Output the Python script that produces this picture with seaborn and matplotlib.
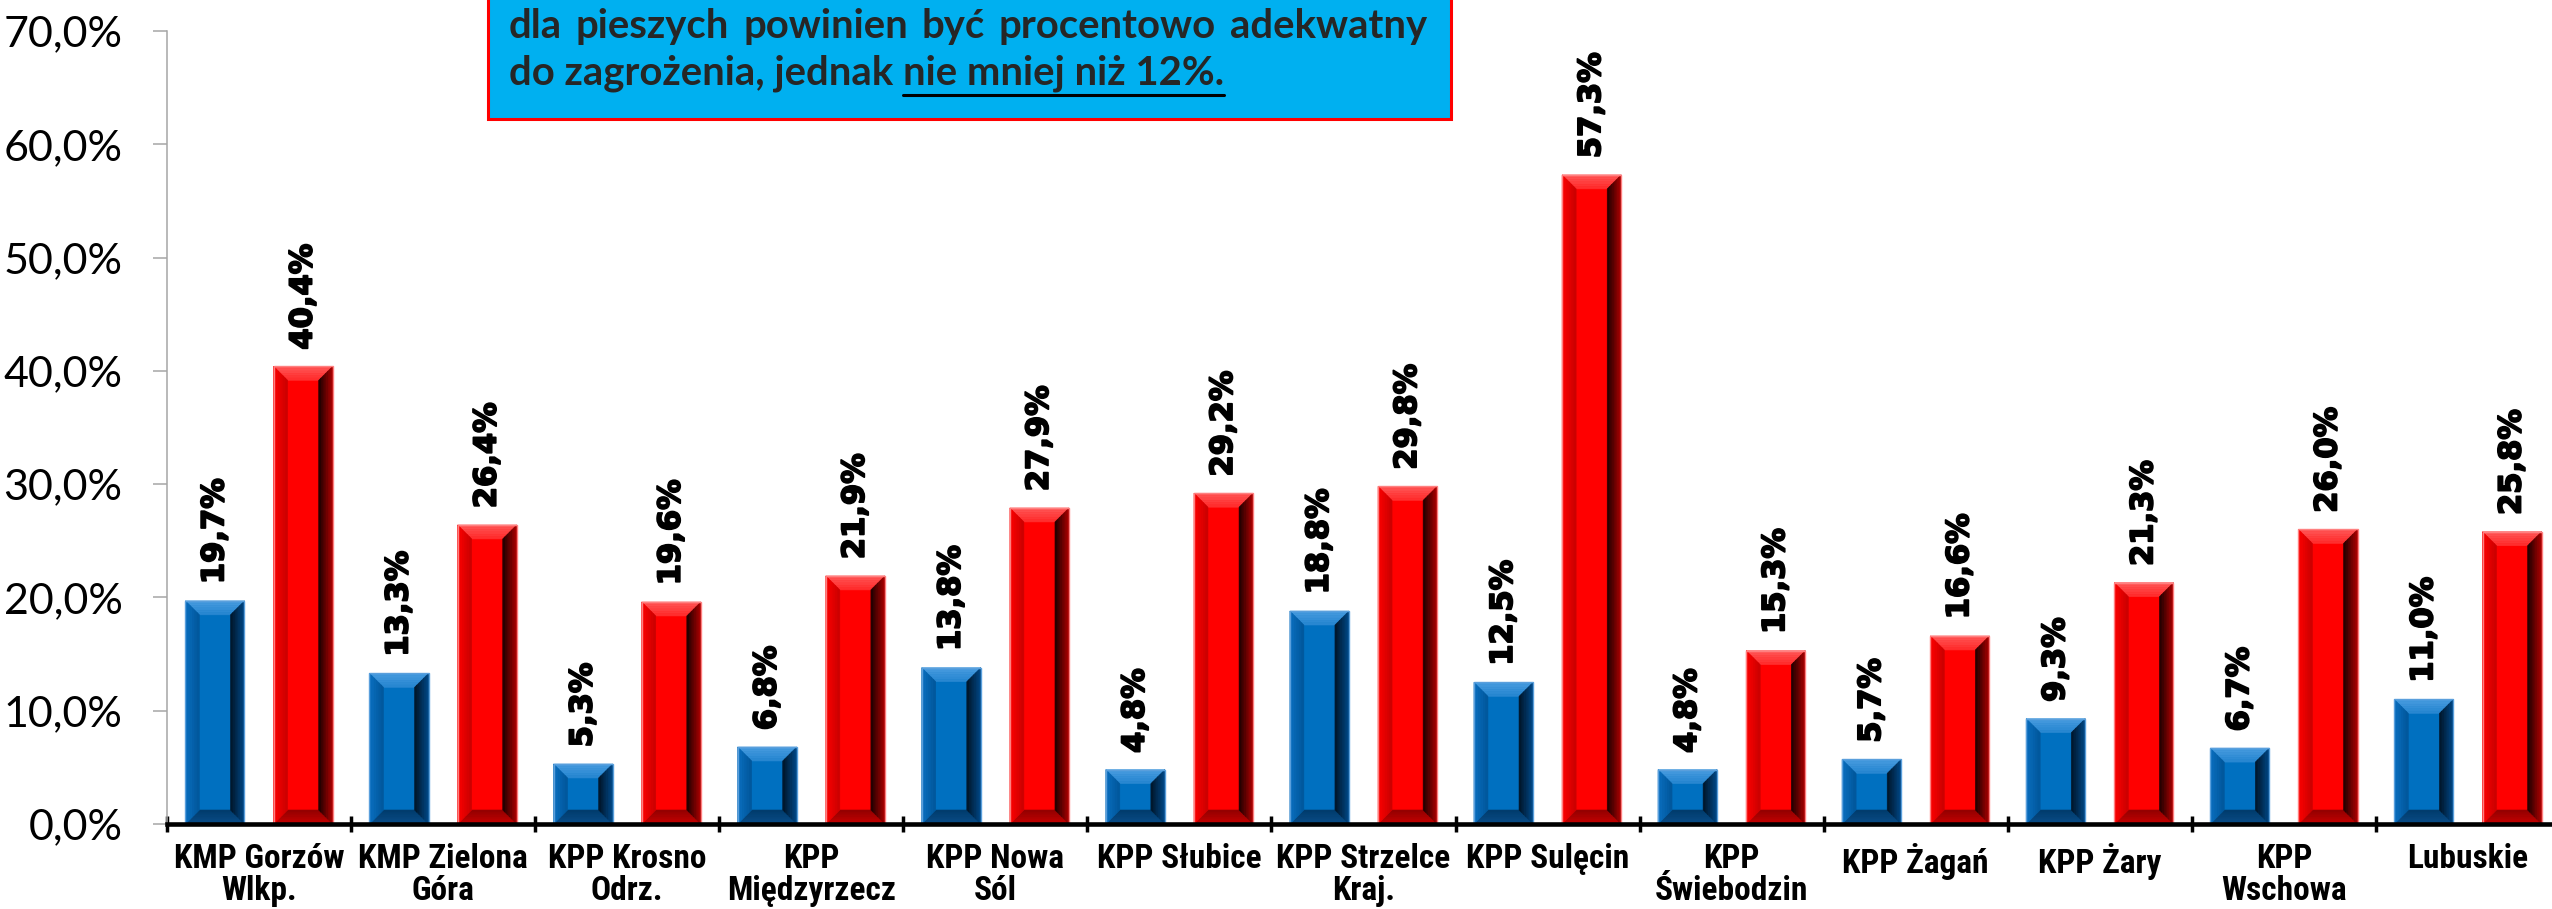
import matplotlib
matplotlib.use("Agg")
import numpy as np
import pandas as pd
import matplotlib.pyplot as plt
import seaborn as sns
from matplotlib import font_manager
from matplotlib import patheffects
from matplotlib.font_manager import FontProperties
from matplotlib.patches import Polygon, Rectangle
from matplotlib.lines import Line2D
from matplotlib.colors import to_rgb
from matplotlib.ticker import FuncFormatter

# dane z wykresu
jednostki = ["KMP Gorzów Wlkp.", "KMP Zielona Góra", "KPP Krosno Odrz.", "KPP Międzyrzecz",
             "KPP Nowa Sól", "KPP Słubice", "KPP Strzelce Kraj.", "KPP Sulęcin",
             "KPP Świebodzin", "KPP Żagań", "KPP Żary", "KPP Wschowa", "Lubuskie"]
etykiety_osi = ["KMP Gorzów\nWlkp.", "KMP Zielona\nGóra", "KPP Krosno\nOdrz.", "KPP\nMiędzyrzecz",
                "KPP Nowa\nSól", "KPP Słubice", "KPP Strzelce\nKraj.", "KPP Sulęcin",
                "KPP\nŚwiebodzin", "KPP Żagań", "KPP Żary", "KPP\nWschowa", "Lubuskie"]
seria_niebieska = [19.7, 13.3, 5.3, 6.8, 13.8, 4.8, 18.8, 12.5, 4.8, 5.7, 9.3, 6.7, 11.0]
seria_czerwona = [40.4, 26.4, 19.6, 21.9, 27.9, 29.2, 29.8, 57.3, 15.3, 16.6, 21.3, 26.0, 25.8]
nazwy_serii = ["seria 1", "seria 2"]

linia1 = ["dla", "pieszych", "powinien", "być", "procentowo", "adekwatny"]
linia2 = "do zagrożenia, jednak nie mniej niż 12%."
podkreslone = "nie mniej niż 12%."

df = pd.DataFrame({
    "jednostka": jednostki * 2,
    "seria": [nazwy_serii[0]] * len(jednostki) + [nazwy_serii[1]] * len(jednostki),
    "udzial": seria_niebieska + seria_czerwona,
})

W, H = 2552, 909
sns.set_style("white")
plt.rcParams["font.family"] = ["DejaVu Sans"]


def narrow_bold():
    # look for any condensed / narrow bold face that is installed
    prefs = ["Liberation Sans Narrow", "Arial Narrow", "Roboto Condensed", "Noto Sans",
             "DejaVu Sans", "Open Sans"]
    found = []
    for f in font_manager.fontManager.ttflist:
        st = str(f.stretch).lower()
        narrowish = ("narrow" in f.name.lower() or "condensed" in f.name.lower()
                     or "condensed" in st or st in ("75", "87.5"))
        try:
            heavy = int(f.weight) >= 700
        except (TypeError, ValueError):
            heavy = str(f.weight).lower() in ("bold", "heavy", "black", "extra bold")
        if narrowish and heavy and "semi" not in st and "extra" not in st and "ultra" not in st:
            found.append(f)
    if not found:
        return None
    found.sort(key=lambda f: prefs.index(f.name) if f.name in prefs else len(prefs))
    return found[0].fname


nb = narrow_bold()
if nb:
    xfont = FontProperties(fname=nb, size=24)
else:
    xfont = FontProperties(family="Liberation Sans", weight="bold", size=20.5)

fig = plt.figure(figsize=(W / 100, H / 100), dpi=100)
ax = fig.add_axes([167 / W, 85 / H, (2560 - 167) / W, 793 / H])

sns.barplot(data=df, x="jednostka", y="udzial", hue="seria", palette=["#0070C0", "#FF0000"],
            width=0.958, gap=0.33, saturation=1, legend=False, ax=ax)

ax.set_xlim(-0.5, 12.5)
ax.set_ylim(0, 70)

# bevel look
bx = 14 * 13 / (2560 - 167)
by = 14 * 70 / 793
styles = [
    dict(edge="#5a9fdc", top=("#4a9de0", "#2585d0"), bottom=("#0a4d88", "#003a6a"),
         left=("#0a6fc0", "#00569a"), right=("#00498a", "#001426")),
    dict(edge="#ff8080", top=("#ff5a5a", "#ff2a2a"), bottom=("#c80000", "#900000"),
         left=("#ff0000", "#c80000"), right=("#b00000", "#1a0000")),
]


def mix(c1, c2, t):
    a, b = np.array(to_rgb(c1)), np.array(to_rgb(c2))
    return tuple(a + (b - a) * t)


def bevel_side(outer, inner, c_out, c_in, n=6):
    (oa, ob), (ia, ib) = np.array(outer), np.array(inner)
    for i in range(n):
        t0, t1 = i / n, (i + 1) / n
        pts = [oa + (ia - oa) * t0, ob + (ib - ob) * t0, ob + (ib - ob) * t1, oa + (ia - oa) * t1]
        c = mix(c_out, c_in, (i + 0.5) / n)
        ax.add_patch(Polygon(pts, closed=True, facecolor=c, edgecolor=c, linewidth=0.4, zorder=3))


stroke = [patheffects.withStroke(linewidth=1.3, foreground="black")]
for cont, st in zip(ax.containers, styles):
    for bar in cont:
        x0, y0 = bar.get_x(), bar.get_y()
        x1, y1 = x0 + bar.get_width(), y0 + bar.get_height()
        bar.set_zorder(2)
        bevel_side([(x0, y1), (x1, y1)], [(x0 + bx, y1 - by), (x1 - bx, y1 - by)], *st["top"])
        bevel_side([(x0, y0), (x1, y0)], [(x0 + bx, y0 + by), (x1 - bx, y0 + by)], *st["bottom"])
        bevel_side([(x0, y0), (x0, y1)], [(x0 + bx, y0 + by), (x0 + bx, y1 - by)], *st["left"])
        bevel_side([(x1, y0), (x1, y1)], [(x1 - bx, y0 + by), (x1 - bx, y1 - by)], *st["right"])
        ax.add_patch(Rectangle((x0, y0), x1 - x0, y1 - y0, fill=False, edgecolor=st["edge"],
                               linewidth=1.0, zorder=4))
    labels = ax.bar_label(cont, labels=[f"{v:.1f}%".replace(".", ",") for v in cont.datavalues],
                          rotation=90, padding=12, fontsize=22, fontweight="bold",
                          family="DejaVu Sans", color="black", zorder=5)
    for t in labels:
        t.set_path_effects(stroke)

# axes
ax.set_xlabel("")
ax.set_ylabel("")
ax.set_yticks(range(0, 71, 10))
ax.yaxis.set_major_formatter(FuncFormatter(lambda v, p: f"{v:.1f}%".replace(".", ",")))
ax.tick_params(axis="y", direction="out", length=10, width=1.1, color="#a6a6a6", pad=22,
               labelsize=31, labelcolor="black", left=True, labelfontfamily="Lato")
ax.set_xticks(range(len(jednostki)))
ax.set_xticklabels(etykiety_osi, fontproperties=xfont, linespacing=1.0)
ax.set_xticks(np.arange(-0.5, len(jednostki), 1), minor=True)
ax.tick_params(axis="x", which="major", length=0, pad=14, labelcolor="black")
ax.tick_params(axis="x", which="minor", direction="inout", length=12, width=2.5, color="black",
               bottom=True)
for s in ["top", "right"]:
    ax.spines[s].set_visible(False)
ax.spines["left"].set_color("#a6a6a6")
ax.spines["left"].set_linewidth(1.1)
ax.spines["bottom"].set_color("black")
ax.spines["bottom"].set_linewidth(3.3)
ax.spines["bottom"].set_zorder(6)
ax.grid(False)

# text box at top
renderer = fig.canvas.get_renderer()
fig.add_artist(Rectangle((488 / W, 1 - 119 / H), (1451 - 488) / W, 140 / H, transform=fig.transFigure,
                         facecolor="#00B0F0", edgecolor="#FF0000", linewidth=2.2, zorder=7))

x_left, x_right = 509, 1427
t2 = fig.text(x_left / W, 1 - 85 / H, linia2, fontsize=24, fontweight="bold", family="Lato",
              va="baseline", ha="left", zorder=8)
fs = 24 * 713 / t2.get_window_extent(renderer).width
t2.set_fontsize(fs)


def width_of(s):
    t = fig.text(0, 0, s, fontsize=fs, fontweight="bold", family="Lato")
    w = t.get_window_extent(renderer).width
    t.remove()
    return w


widths = [width_of(w) for w in linia1]
space = (x_right - x_left - sum(widths)) / (len(linia1) - 1)
xp = x_left
for word, w in zip(linia1, widths):
    fig.text(xp / W, 1 - 38 / H, word, fontsize=fs, fontweight="bold", family="Lato",
             va="baseline", ha="left", zorder=8)
    xp += w + space

full = t2.get_window_extent(renderer)
u0 = full.x1 - width_of(podkreslone)
uy = 1 - 95 / H
fig.add_artist(Line2D([u0 / W, full.x1 / W], [uy, uy], transform=fig.transFigure,
                      color="black", linewidth=2.2, zorder=8))

fig.savefig("out.png", dpi=100)
